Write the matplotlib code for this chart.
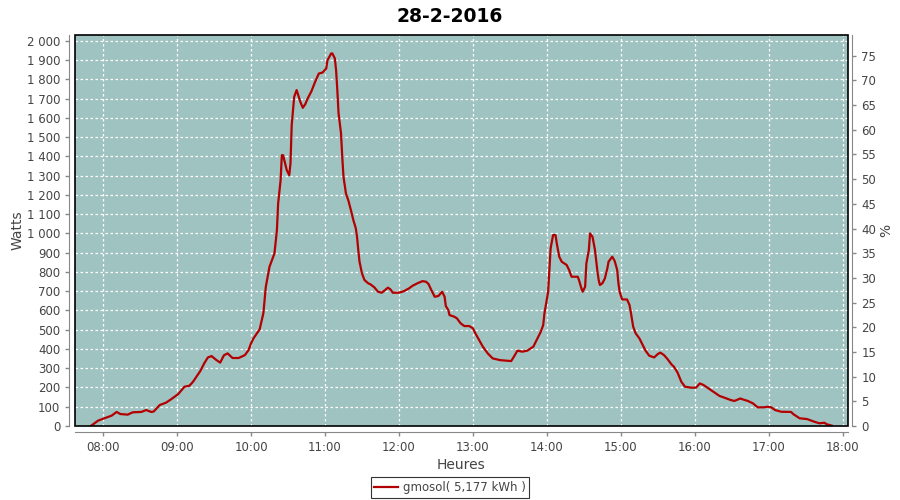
"""Daily solar production curve (gmosol), 28-2-2016."""

import matplotlib

matplotlib.use("Agg")
import matplotlib.pyplot as plt
from matplotlib.patches import Rectangle
from matplotlib.ticker import FuncFormatter

TITLE = "28-2-2016"
SERIES_LABEL = "gmosol( 5,177 kWh )"

# readings (HH:MM, watts)
times = [
    "07:50", "07:56", "08:01", "08:07", "08:11", "08:14", "08:20", "08:24", "08:31", "08:35",
    "08:39", "08:41", "08:46", "08:51", "08:55", "09:01", "09:06", "09:10", "09:13", "09:16",
    "09:19", "09:22", "09:25", "09:28", "09:32", "09:35", "09:38", "09:41", "09:45", "09:50",
    "09:55", "09:58", "10:00", "10:02", "10:07", "10:10", "10:12", "10:15", "10:19", "10:21",
    "10:22", "10:24", "10:25", "10:26", "10:29", "10:31", "10:32", "10:33", "10:35", "10:37",
    "10:40", "10:42", "10:44", "10:46", "10:49", "10:52", "10:55", "10:58", "11:01", "11:02",
    "11:05", "11:06", "11:08", "11:09", "11:10", "11:11", "11:13", "11:14", "11:15", "11:17",
    "11:19", "11:21", "11:23", "11:25", "11:26", "11:27", "11:28", "11:30", "11:32", "11:35",
    "11:37", "11:40", "11:43", "11:46", "11:48", "11:51", "11:53", "11:55", "12:00", "12:04",
    "12:08", "12:11", "12:15", "12:19", "12:22", "12:24", "12:26", "12:29", "12:32", "12:35",
    "12:37", "12:38", "12:40", "12:41", "12:45", "12:47", "12:50", "12:53", "12:57", "13:00",
    "13:02", "13:05", "13:08", "13:12", "13:16", "13:22", "13:27", "13:31", "13:34", "13:36",
    "13:40", "13:44", "13:49", "13:52", "13:55", "13:57", "13:58", "14:01", "14:02", "14:03",
    "14:05", "14:07", "14:08", "14:10", "14:12", "14:16", "14:18", "14:20", "14:25", "14:26",
    "14:28", "14:29", "14:31", "14:32", "14:34", "14:35", "14:37", "14:39", "14:41", "14:42",
    "14:43", "14:45", "14:47", "14:49", "14:50", "14:53", "14:55", "14:57", "14:58", "14:59",
    "15:01", "15:05", "15:07", "15:08", "15:10", "15:12", "15:15", "15:17", "15:20", "15:23",
    "15:27", "15:30", "15:32", "15:35", "15:38", "15:41", "15:43", "15:46", "15:49", "15:52",
    "15:57", "16:01", "16:04", "16:07", "16:13", "16:20", "16:24", "16:29", "16:32", "16:37",
    "16:38", "16:43", "16:47", "16:51", "16:56", "16:59", "17:02", "17:05", "17:10", "17:18",
    "17:20", "17:25", "17:31", "17:37", "17:41", "17:45", "17:47", "17:51",
]
watts = [
    0, 28, 40, 54, 73, 62, 59, 71, 73, 83,
    73, 75, 109, 121, 138, 166, 204, 209, 230, 259,
    287, 325, 356, 363, 342, 329, 367, 377, 353, 353,
    368, 394, 429, 455, 502, 585, 723, 827, 896, 1017,
    1156, 1277, 1406, 1406, 1328, 1302, 1363, 1562, 1709, 1744,
    1683, 1652, 1671, 1701, 1738, 1787, 1830, 1835, 1856, 1899,
    1934, 1934, 1908, 1847, 1744, 1623, 1519, 1397, 1294, 1207,
    1170, 1121, 1069, 1026, 982, 913, 853, 792, 758, 741,
    735, 720, 697, 692, 702, 718, 710, 692, 692, 700,
    714, 728, 741, 752, 749, 737, 709, 671, 675, 697,
    671, 623, 602, 576, 567, 559, 533, 519, 519, 507,
    481, 446, 412, 377, 351, 342, 339, 337, 368, 391,
    386, 391, 412, 450, 489, 524, 585, 697, 810, 922,
    991, 991, 948, 879, 853, 836, 810, 775, 775, 758,
    714, 697, 723, 844, 913, 1000, 982, 913, 801, 758,
    732, 741, 766, 818, 853, 879, 856, 810, 741, 697,
    657, 657, 628, 593, 515, 481, 455, 429, 391, 365,
    356, 374, 381, 368, 346, 320, 308, 277, 230, 204,
    199, 199, 221, 213, 187, 156, 147, 135, 130, 143,
    140, 130, 118, 97, 97, 100, 97, 83, 74, 73,
    61, 40, 36, 22, 14, 17, 9, 2,
]
hour_ticks = list(range(8, 19))
watt_ticks = list(range(0, 2001, 100))
pct_ticks = list(range(0, 76, 5))

WATTS_PER_PCT = 25.63
AXIS_GREY = "#888888"
LABEL_GREY = "#444444"


def to_hours(hhmm: str) -> float:
    h, m = hhmm.split(":")
    return int(h) + int(m) / 60


def main() -> None:
    hours = [to_hours(t) for t in times]

    fig = plt.figure(figsize=(9, 5), dpi=100)
    ax = fig.add_axes([0.0833, 0.148, 0.8589, 0.782])
    ax.set_facecolor("#9fc3c1")

    ax.plot(hours, watts, color="#b30000", linewidth=1.6, label=SERIES_LABEL, zorder=3)

    ax.set_xlim(7.62, 18.07)
    ax.set_ylim(0, 2030)
    ax.set_xticks(hour_ticks)
    ax.xaxis.set_major_formatter(FuncFormatter(lambda v, _: f"{int(round(v)):02d}:00"))
    ax.set_yticks(watt_ticks)
    ax.yaxis.set_major_formatter(FuncFormatter(lambda v, _: f"{int(v):,}".replace(",", " ")))
    ax.grid(True, color="white", linestyle=(0, (2, 2)), linewidth=0.9)
    ax.set_axisbelow(True)

    for side in ("top", "right"):
        ax.spines[side].set_visible(False)
    for side in ("left", "bottom"):
        ax.spines[side].set_position(("outward", 4))
        ax.spines[side].set_color(AXIS_GREY)
    ax.tick_params(colors=AXIS_GREY, labelcolor=LABEL_GREY, labelsize=8.5, length=3, width=1)

    ax2 = ax.twinx()
    ax2.set_ylim(0, 2030 / WATTS_PER_PCT)
    ax2.set_yticks(pct_ticks)
    for side in ("top", "left", "bottom"):
        ax2.spines[side].set_visible(False)
    ax2.spines["right"].set_position(("outward", 3))
    ax2.spines["right"].set_color(AXIS_GREY)
    ax2.tick_params(colors=AXIS_GREY, labelcolor=LABEL_GREY, labelsize=8.5, length=3, width=1)

    # plot outline
    ax.add_patch(Rectangle((0, 0), 1, 1, transform=ax.transAxes, fill=False,
                           edgecolor="black", linewidth=1.2, clip_on=False, zorder=4))

    ax.set_xlabel("Heures", fontsize=10, color=LABEL_GREY, labelpad=3)
    ax.set_ylabel("Watts", fontsize=10, color=LABEL_GREY, labelpad=2)
    ax2.set_ylabel("%", fontsize=10, color=LABEL_GREY, labelpad=2)
    fig.suptitle(TITLE, fontsize=13.5, fontweight="bold", y=0.985)

    leg = fig.legend(loc="center", bbox_to_anchor=(0.5, 0.025), fontsize=8.5, frameon=True,
                     fancybox=False, handlelength=2, borderpad=0.3, handletextpad=0.4)
    leg.get_frame().set_edgecolor("black")
    leg.get_frame().set_linewidth(0.8)
    for t in leg.get_texts():
        t.set_color(LABEL_GREY)

    fig.savefig("out.png")
    plt.close(fig)


if __name__ == "__main__":
    main()
